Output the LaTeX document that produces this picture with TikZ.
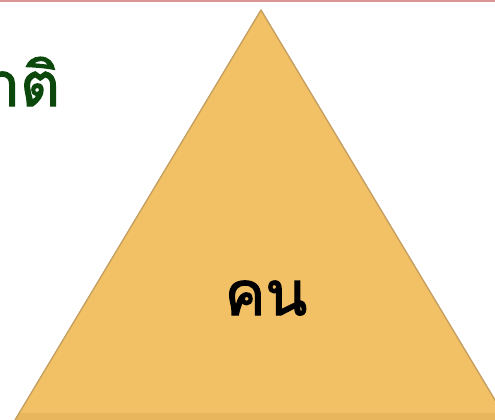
\documentclass[tikz,border=0pt]{standalone}
\usepackage{fontspec}
\newfontfamily\thaifont[Script=Thai,FakeBold=2]{Loma}
\definecolor{pinkline}{RGB}{218,150,150}
\definecolor{trifill}{RGB}{242,193,101}
\definecolor{triedge}{RGB}{196,158,95}
\definecolor{tribottom}{RGB}{232,182,92}
\definecolor{darkgreen}{RGB}{12,72,12}
\begin{document}
\begin{tikzpicture}[x=1pt,y=-1pt,
  bigtext/.style={font=\thaifont\fontsize{61}{66}\selectfont, inner sep=0pt}]
\useasboundingbox (0,0) rectangle (495,420);
\fill[pinkline] (0,0) rectangle (495,2.5);
\coordinate (apex) at (261,10);
\coordinate (bl) at (15,420);
\coordinate (br) at (507,420);
\fill[trifill] (apex) -- (br) -- (bl) -- cycle;
\begin{scope}
  \clip (apex) -- (br) -- (bl) -- cycle;
  \fill[tribottom] (0,413) rectangle (510,420);
\end{scope}
\draw[triedge, line width=1.3pt, line join=round] (bl) -- (apex) -- (br);
\node[bigtext, text=darkgreen, anchor=base east] (title) at (60,106) {ชาติ};
\node[bigtext, text=black, anchor=base] (kon) at (266,315) {คน};
\end{tikzpicture}
\end{document}
